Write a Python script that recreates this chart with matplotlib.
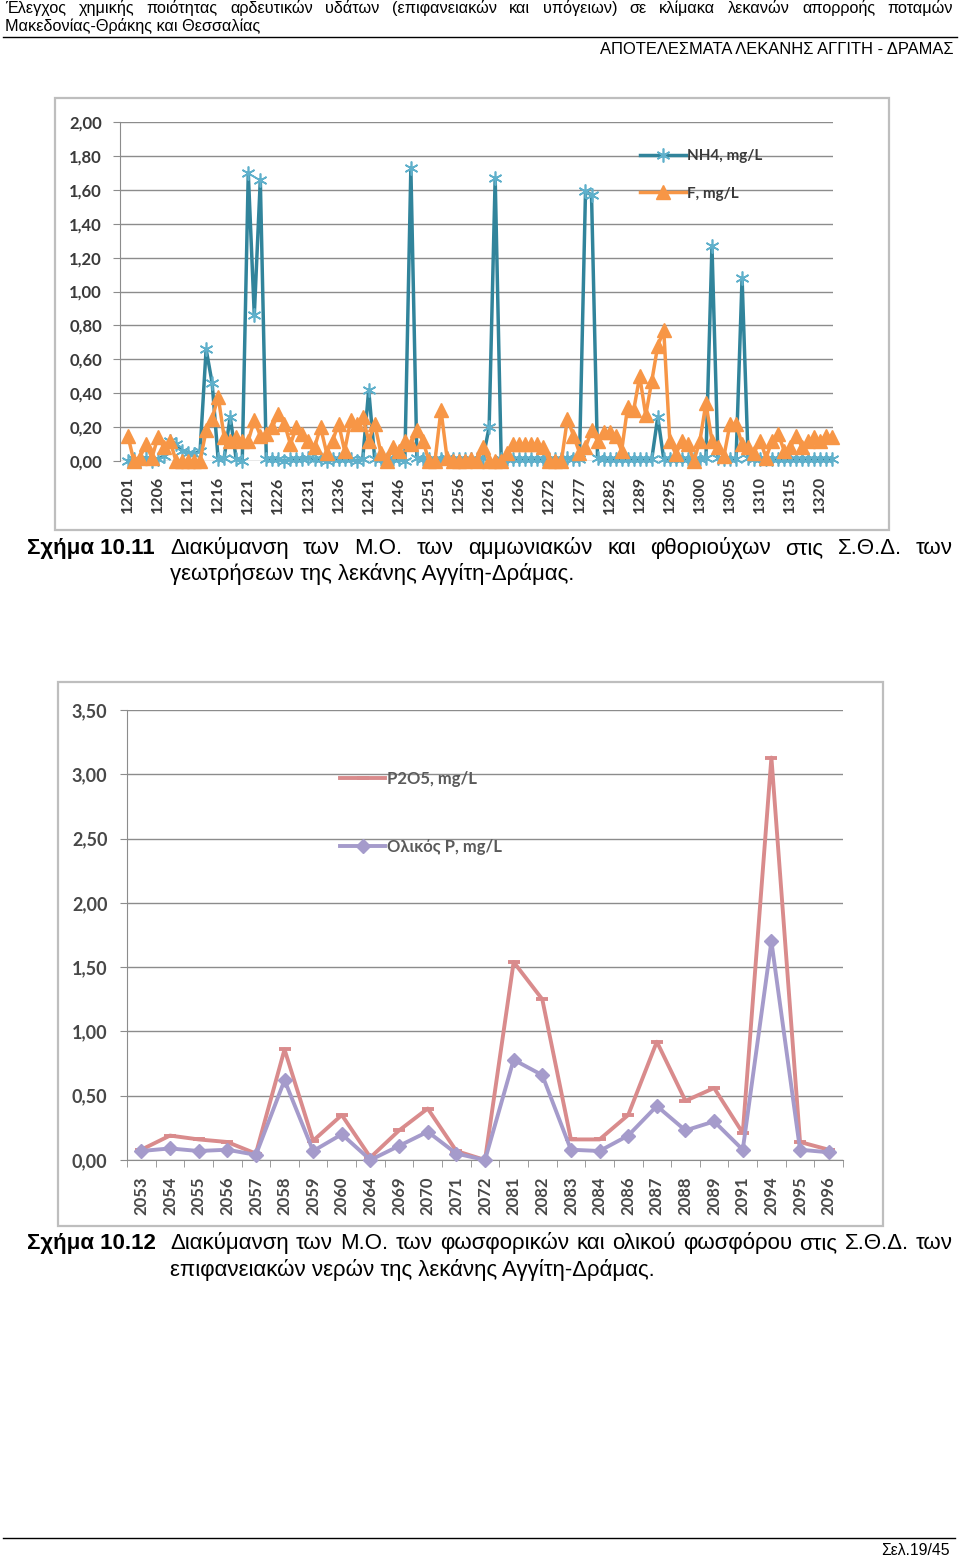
import numpy as np
import matplotlib
matplotlib.use("Agg")
import matplotlib.pyplot as plt
from matplotlib.patches import Rectangle
from matplotlib.lines import Line2D

# ---- data, chart 10.11 (boreholes) ----
codes_1 = (list(range(1201, 1271)) + [1272] + list(range(1273, 1283)) +
           [1283, 1285, 1286, 1288, 1289, 1290, 1291, 1292, 1294, 1295] +
           list(range(1296, 1323)))
nh4 = [0.00, 0.01, 0.00, 0.02, 0.00, 0.01, 0.03, 0.12, 0.10, 0.06,
       0.05, 0.04, 0.06, 0.66, 0.46, 0.01, 0.02, 0.26, 0.01, 0.00,
       1.70, 0.86, 1.66, 0.01, 0.01, 0.01, 0.00, 0.01, 0.01, 0.01,
       0.02, 0.01, 0.01, 0.00, 0.01, 0.01, 0.01, 0.01, 0.00, 0.01,
       0.42, 0.01, 0.01, 0.01, 0.01, 0.01, 0.00, 1.73, 0.02, 0.01,
       0.01, 0.01, 0.01, 0.02, 0.01, 0.01, 0.01, 0.01, 0.01, 0.02,
       0.20, 1.67, 0.01, 0.01, 0.01, 0.01, 0.01, 0.01, 0.01, 0.01,
       0.01, 0.01, 0.01, 0.02, 0.01, 0.01, 1.59, 1.57, 0.02, 0.01,
       0.01, 0.01, 0.01, 0.01, 0.01, 0.01, 0.01, 0.01, 0.26, 0.01,
       0.01, 0.01, 0.01, 0.01, 0.01, 0.01, 0.02, 1.27, 0.02, 0.01,
       0.01, 0.01, 1.08, 0.02, 0.01, 0.01, 0.01, 0.01, 0.01, 0.01,
       0.01, 0.01, 0.01, 0.01, 0.01, 0.01, 0.01, 0.01]
fluor = [0.15, 0.00, 0.02, 0.10, 0.02, 0.14, 0.08, 0.12, 0.00, 0.00,
         0.00, 0.00, 0.00, 0.18, 0.25, 0.38, 0.14, 0.12, 0.14, 0.12,
         0.12, 0.24, 0.15, 0.16, 0.20, 0.28, 0.22, 0.10, 0.20, 0.16,
         0.12, 0.08, 0.20, 0.05, 0.12, 0.22, 0.06, 0.24, 0.22, 0.26,
         0.12, 0.22, 0.05, 0.00, 0.08, 0.06, 0.12, 0.10, 0.18, 0.12,
         0.00, 0.00, 0.30, 0.02, 0.00, 0.00, 0.00, 0.01, 0.00, 0.08,
         0.00, 0.00, 0.00, 0.05, 0.10, 0.10, 0.10, 0.10, 0.10, 0.08,
         0.00, 0.00, 0.00, 0.25, 0.15, 0.05, 0.08, 0.18, 0.12, 0.17,
         0.17, 0.15, 0.06, 0.32, 0.30, 0.50, 0.27, 0.47, 0.68, 0.77,
         0.12, 0.04, 0.12, 0.10, 0.00, 0.12, 0.34, 0.12, 0.08, 0.03,
         0.22, 0.22, 0.10, 0.08, 0.05, 0.12, 0.02, 0.12, 0.16, 0.06,
         0.08, 0.15, 0.08, 0.12, 0.14, 0.12, 0.15, 0.14]

# ---- data, chart 10.12 (surface water) ----
codes_2 = ["2053", "2054", "2055", "2056", "2057", "2058", "2059", "2060",
           "2064", "2069", "2070", "2071", "2072", "2081", "2082", "2083",
           "2084", "2086", "2087", "2088", "2089", "2091", "2094", "2095", "2096"]
p2o5 = [0.08, 0.19, 0.16, 0.14, 0.05, 0.86, 0.15, 0.35, 0.02, 0.23, 0.40, 0.07,
        0.00, 1.54, 1.25, 0.16, 0.16, 0.35, 0.92, 0.46, 0.56, 0.21, 3.13, 0.14, 0.08]
total_p = [0.07, 0.09, 0.07, 0.08, 0.04, 0.62, 0.07, 0.20, 0.00, 0.11, 0.22, 0.05,
           0.00, 0.78, 0.66, 0.08, 0.07, 0.19, 0.42, 0.23, 0.30, 0.08, 1.70, 0.08, 0.06]

W, H = 960, 1559
fig = plt.figure(figsize=(9.6, 15.59), dpi=100)
fig.patch.set_facecolor("white")
rend = fig.canvas.get_renderer()

def fx(x):
    return x / W

def fy(y):
    return 1 - y / H

ARIAL = ["Liberation Sans", "DejaVu Sans"]
TICKF = ["Lato", "DejaVu Sans"]

def width_of(t):
    return t.get_window_extent(rend).width

def fit_text(x, yb, s, target_w, ha="left", **kw):
    # pick the font size so the text spans target_w pixels
    t = fig.text(fx(x), fy(yb), s, ha=ha, va="baseline", fontsize=10, **kw)
    t.set_fontsize(10 * target_w / width_of(t))
    return t

def justify(text, x0, x1, yb, **kw):
    words = text.split()
    objs = [fig.text(0, fy(yb), w, va="baseline", ha="left", **kw) for w in words]
    widths = [width_of(o) for o in objs]
    gap = (x1 - x0 - sum(widths)) / (len(words) - 1)
    x = x0
    for o, wd in zip(objs, widths):
        o.set_x(fx(x))
        x += wd + gap

def hline(y, x0, x1):
    fig.add_artist(Line2D([fx(x0), fx(x1)], [fy(y), fy(y)], color="black", lw=1.0))

# header / footer
hdr2 = fit_text(5, 31, "Μακεδονίας-Θράκης και Θεσσαλίας", 255, family=ARIAL)
hsize = hdr2.get_fontsize()
justify("Έλεγχος χημικής ποιότητας αρδευτικών υδάτων (επιφανειακών και υπόγειων) "
        "σε κλίμακα λεκανών απορροής ποταμών", 5, 953, 13, family=ARIAL, fontsize=hsize)
hline(36.5, 3, 957)
fit_text(953, 54, "ΑΠΟΤΕΛΕΣΜΑΤΑ ΛΕΚΑΝΗΣ ΑΓΓΙΤΗ - ΔΡΑΜΑΣ", 354, ha="right", family=ARIAL)
hline(1538, 3, 955)
fit_text(950, 1555, "Σελ.19/45", 68, ha="right", family=ARIAL)

# chart frames
for (x0, y0, x1, y1) in [(55, 98, 889, 530), (58, 682, 883, 1226)]:
    fig.add_artist(Rectangle((fx(x0), fy(y1)), fx(x1) - fx(x0), fy(y0) - fy(y1),
                             fill=False, edgecolor="#BEBEBE", lw=1.6))

GRID = "#8C8C8C"
TXT = "#3A3A3A"

def comma(v):
    return "{:.2f}".format(v).replace(".", ",")

# ---- chart 1 ----
ax1 = fig.add_axes([fx(120), fy(461), (833 - 120) / W, (461 - 122) / H])
x1 = np.arange(len(codes_1))
ax1.plot(x1, nh4, color="#31849B", lw=2.5, marker=(6, 2, 0), ms=10, mew=1.2,
         mec="#5FB0CB", label="NH4, mg/L", clip_on=False, zorder=3)
ax1.plot(x1, fluor, color="#F79646", lw=2.5, marker="^", ms=10, mec="#F79646",
         label="F, mg/L", clip_on=False, zorder=4)
ax1.set_ylim(0, 2.0)
ax1.set_xlim(-1.3, 117.1)
yt1 = np.arange(0, 2.01, 0.2)
ax1.set_yticks(yt1)
ax1.set_yticklabels([comma(v) for v in yt1])
ax1.set_xticks(x1[::5])
ax1.set_xticklabels([str(c) for c in codes_1[::5]], rotation=90)
ax1.yaxis.grid(True, color=GRID, lw=1.0)
ax1.set_axisbelow(True)
for s in ["top", "right", "bottom"]:
    ax1.spines[s].set_visible(False)
ax1.spines["left"].set_color(GRID)
ax1.tick_params(axis="y", length=5, color=GRID, pad=8)
ax1.tick_params(axis="x", length=0, pad=11)
for lab in ax1.get_yticklabels():
    lab.set_fontsize(12)
for lab in ax1.get_xticklabels():
    lab.set_fontsize(11.5)
for lab in ax1.get_yticklabels() + ax1.get_xticklabels():
    lab.set_family(TICKF)
    lab.set_fontweight("bold")
    lab.set_color(TXT)
leg1 = ax1.legend(loc="upper left", bbox_to_anchor=(fx(640), fy(149)),
                  bbox_transform=fig.transFigure, frameon=False, borderpad=0,
                  borderaxespad=0, handlelength=3.0, handletextpad=0.1,
                  labelspacing=1.55, prop={"family": TICKF, "weight": "bold", "size": 11})
for t in leg1.get_texts():
    t.set_color(TXT)

# ---- chart 2 ----
ax2 = fig.add_axes([fx(127), fy(1160), (843 - 127) / W, (1160 - 710) / H])
x2 = np.arange(len(codes_2))
ax2.plot(x2, p2o5, color="#D98B8C", lw=2.8, marker="_", ms=9, mew=2.8,
         label="P2O5, mg/L", clip_on=False, zorder=3)
ax2.plot(x2, total_p, color="#A59BCB", lw=2.8, marker="D", ms=7,
         label="Ολικός P, mg/L", clip_on=False, zorder=4)
ax2.set_ylim(0, 3.5)
ax2.set_xlim(-0.5, len(codes_2) - 0.5)
yt2 = np.arange(0, 3.51, 0.5)
ax2.set_yticks(yt2)
ax2.set_yticklabels([comma(v) for v in yt2])
ax2.set_xticks(x2)
ax2.set_xticklabels(codes_2, rotation=90)
ax2.set_xticks(np.arange(-0.5, len(codes_2), 1.0), minor=True)
ax2.yaxis.grid(True, color=GRID, lw=1.0)
ax2.set_axisbelow(True)
for s in ["top", "right"]:
    ax2.spines[s].set_visible(False)
ax2.spines["left"].set_color(GRID)
ax2.spines["bottom"].set_color(GRID)
ax2.tick_params(axis="y", length=5, color=GRID, pad=9)
ax2.tick_params(axis="x", which="major", length=0, pad=12)
ax2.tick_params(axis="x", which="minor", length=5, color=GRID)
for lab in ax2.get_yticklabels():
    lab.set_fontsize(13)
for lab in ax2.get_xticklabels():
    lab.set_fontsize(12)
for lab in ax2.get_yticklabels() + ax2.get_xticklabels():
    lab.set_family(TICKF)
    lab.set_fontweight("bold")
    lab.set_color("#484848")
leg2 = ax2.legend(loc="upper left", bbox_to_anchor=(fx(340), fy(771)),
                  bbox_transform=fig.transFigure, frameon=False, borderpad=0,
                  borderaxespad=0, handlelength=2.7, handletextpad=0.1,
                  labelspacing=3.1, prop={"family": TICKF, "weight": "bold", "size": 12})
for t in leg2.get_texts():
    t.set_color("#5A5A5A")

# captions
CAP = 16
justify("Διακύμανση των Μ.Ο. των αμμωνιακών και φθοριούχων στις Σ.Θ.Δ. των",
        170, 953, 554, family=ARIAL, fontsize=CAP)
fig.text(fx(27), fy(554), "Σχήμα 10.11", family=ARIAL, fontsize=CAP, weight="bold",
         va="baseline")
fig.text(fx(170), fy(580), "γεωτρήσεων της λεκάνης Αγγίτη-Δράμας.", family=ARIAL,
         fontsize=CAP, va="baseline")
justify("Διακύμανση των Μ.Ο. των φωσφορικών και ολικού φωσφόρου στις Σ.Θ.Δ. των",
        170, 953, 1249, family=ARIAL, fontsize=CAP)
fig.text(fx(27), fy(1249), "Σχήμα 10.12", family=ARIAL, fontsize=CAP, weight="bold",
         va="baseline")
fig.text(fx(170), fy(1276), "επιφανειακών νερών της λεκάνης Αγγίτη-Δράμας.", family=ARIAL,
         fontsize=CAP, va="baseline")

fig.savefig("out.png", dpi=100, facecolor="white")
